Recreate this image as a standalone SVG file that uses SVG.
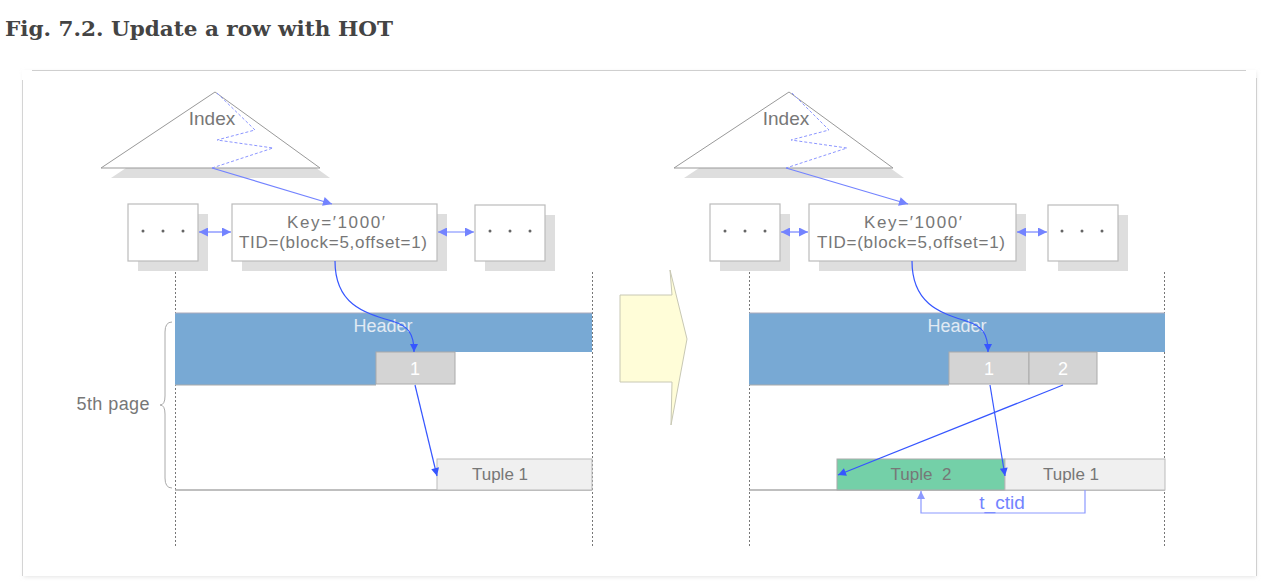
<svg xmlns="http://www.w3.org/2000/svg" width="1272" height="586" viewBox="0 0 1272 586">
<style>
.t{font-family:"Liberation Sans","Noto Sans",sans-serif;fill:#777;text-anchor:middle}
.shadow{fill:#dedede}
.box{fill:#fff;stroke:#bbb;stroke-width:1.2}
.tri{fill:#fff;stroke:#999;stroke-width:1}
.zig{fill:none;stroke:#8c96ff;stroke-width:1;stroke-dasharray:3,2}
.vdot{stroke:#777;stroke-width:1;stroke-dasharray:2,2}
.hdr{fill:#78a9d4}
.slot{fill:#d4d4d4;stroke:#aaa;stroke-width:1}
.tup{fill:#f0f0f0;stroke:#bbb;stroke-width:1}
.light{fill:none;stroke:#7383ff;stroke-width:1.2}
.dark{fill:none;stroke:#3656ff;stroke-width:1.2}
.dot{fill:#666}
</style>
<defs>
<marker id="ahL" viewBox="0 0 10 10" refX="10" refY="5" markerWidth="11" markerHeight="9" markerUnits="userSpaceOnUse" orient="auto-start-reverse"><path d="M0,0 L10,5 L0,10 z" fill="#7383ff"/></marker>
<marker id="ahD" viewBox="0 0 10 10" refX="10" refY="5" markerWidth="12" markerHeight="8" markerUnits="userSpaceOnUse" orient="auto-start-reverse"><path d="M0,0 L10,5 L0,10 z" fill="#3656ff"/></marker>
<marker id="ahT" viewBox="0 0 10 10" refX="10" refY="5" markerWidth="12" markerHeight="8" markerUnits="userSpaceOnUse" orient="auto-start-reverse"><path d="M0,0 L10,5 L0,10 z" fill="#8c99ff"/></marker>
<filter id="fs" x="-5%" y="-5%" width="110%" height="110%"><feGaussianBlur stdDeviation="2"/></filter>
</defs>
<rect width="1272" height="586" fill="#fff"/>
<text x="5" y="36" font-family="DejaVu Serif,Liberation Serif,serif" font-weight="bold" font-size="20" fill="#444" textLength="388" lengthAdjust="spacingAndGlyphs">Fig. 7.2. Update a row with HOT</text>

<g id="frame">
<rect x="24" y="72" width="1232" height="505" fill="#e4e4e4" filter="url(#fs)"/>
<rect x="22" y="70" width="1234" height="506" fill="#fff"/>
<line x1="32" y1="70.5" x2="1246" y2="70.5" stroke="#cfcfcf"/>
<line x1="22.5" y1="80" x2="22.5" y2="576" stroke="#d4d4d4"/>
<line x1="1256.5" y1="78" x2="1256.5" y2="576" stroke="#d0d0d0"/>
</g>

<g id="left-index">
<polygon class="shadow" points="225,102 111,178 330,178"/>
<polygon class="tri" points="215,92 101,168 320,168"/>
<polyline class="zig" points="217,93 255,130 217,140 273,148 212,168"/>
<text class="t" x="212" y="125" font-size="19">Index</text>
</g>
<g id="left-dots1">
<rect class="shadow" x="138" y="214" width="70" height="57"/>
<rect class="box" x="128" y="204" width="70" height="57"/>
<circle class="dot" cx="143" cy="231" r="1.5"/><circle class="dot" cx="163" cy="231" r="1.5"/><circle class="dot" cx="183" cy="231" r="1.5"/>
</g>
<g id="left-key">
<rect class="shadow" x="242" y="214" width="205" height="57"/>
<rect class="box" x="232" y="204" width="205" height="57"/>
<text class="t" x="336" y="228" font-size="17" textLength="98">Key=′1000′</text>
<text class="t" x="333" y="248" font-size="17" textLength="188">TID=(block=5,offset=1)</text>
</g>
<g id="left-dots2">
<rect class="shadow" x="485" y="215" width="70" height="56"/>
<rect class="box" x="475" y="205" width="70" height="56"/>
<circle class="dot" cx="490" cy="231" r="1.5"/><circle class="dot" cx="510" cy="231" r="1.5"/><circle class="dot" cx="530" cy="231" r="1.5"/>
</g>
<g id="left-page">
<line class="vdot" x1="175.5" y1="272" x2="175.5" y2="548"/>
<line class="vdot" x1="592.5" y1="272" x2="592.5" y2="548"/>
<rect class="hdr" x="175" y="313" width="417" height="39"/>
<rect class="hdr" x="175" y="351" width="201" height="34"/>
<line x1="175" y1="313" x2="592" y2="313" stroke="#aab" stroke-width="1"/>
<line x1="175" y1="385" x2="376" y2="385" stroke="#aaa" stroke-width="1"/>
<text x="383" y="332" font-family="Liberation Sans,sans-serif" font-size="18" fill="#e2eaf3" text-anchor="middle">Header</text>
<rect class="slot" x="376" y="352" width="79" height="32"/>
<text x="415" y="375" font-family="Liberation Sans,sans-serif" font-size="18" fill="#fff" text-anchor="middle">1</text>
<line x1="175" y1="490" x2="592" y2="490" stroke="#aaa" stroke-width="1.5"/>
<rect class="tup" x="437" y="459" width="155" height="31"/>
<text class="t" x="500" y="480" font-size="17" fill="#666">Tuple 1</text>
<text class="t" x="113" y="410" font-size="18" textLength="73">5th page</text>
<path d="M172,322 Q165,322 165,332 V396 Q165,405 160,405 Q165,405 165,414 V478 Q165,488 172,488" fill="none" stroke="#aaa" stroke-width="1"/>
</g>

<g id="transition">
<polygon points="620,295 672,295 670,270 687,339 671,425 672,382 620,382" fill="#fffdd8" stroke="#c8c8b4" stroke-width="1"/>
</g>

<g id="right-index">
<polygon class="shadow" points="799,102 684,178 904,178"/>
<polygon class="tri" points="789,92 674,168 893,168"/>
<polyline class="zig" points="792,93 829,130 791,140 847,148 786,168"/>
<text class="t" x="786" y="125" font-size="19">Index</text>
</g>
<g id="right-dots1">
<rect class="shadow" x="720" y="214" width="70" height="57"/>
<rect class="box" x="710" y="204" width="70" height="57"/>
<circle class="dot" cx="725" cy="231" r="1.5"/><circle class="dot" cx="745" cy="231" r="1.5"/><circle class="dot" cx="765" cy="231" r="1.5"/>
</g>
<g id="right-key">
<rect class="shadow" x="819" y="214" width="207" height="57"/>
<rect class="box" x="809" y="204" width="207" height="57"/>
<text class="t" x="913" y="228" font-size="17" textLength="98">Key=′1000′</text>
<text class="t" x="911" y="248" font-size="17" textLength="188">TID=(block=5,offset=1)</text>
</g>
<g id="right-dots2">
<rect class="shadow" x="1058" y="215" width="70" height="56"/>
<rect class="box" x="1048" y="205" width="70" height="56"/>
<circle class="dot" cx="1062" cy="231" r="1.5"/><circle class="dot" cx="1082" cy="231" r="1.5"/><circle class="dot" cx="1102" cy="231" r="1.5"/>
</g>
<g id="right-page">
<line class="vdot" x1="749.5" y1="272" x2="749.5" y2="548"/>
<line class="vdot" x1="1164.5" y1="272" x2="1164.5" y2="548"/>
<rect class="hdr" x="749" y="313" width="416" height="39"/>
<rect class="hdr" x="749" y="351" width="200" height="34"/>
<line x1="749" y1="313" x2="1165" y2="313" stroke="#aab" stroke-width="1"/>
<line x1="749" y1="385" x2="949" y2="385" stroke="#aaa" stroke-width="1"/>
<text x="957" y="332" font-family="Liberation Sans,sans-serif" font-size="18" fill="#e2eaf3" text-anchor="middle">Header</text>
<rect class="slot" x="949" y="352" width="80" height="32"/>
<text x="989" y="375" font-family="Liberation Sans,sans-serif" font-size="18" fill="#fff" text-anchor="middle">1</text>
<rect class="slot" x="1029" y="352" width="68" height="32"/>
<text x="1063" y="375" font-family="Liberation Sans,sans-serif" font-size="18" fill="#fff" text-anchor="middle">2</text>
<line x1="749" y1="490" x2="1165" y2="490" stroke="#aaa" stroke-width="1.5"/>
<rect x="837" y="459" width="168" height="31" fill="#74d0a8" stroke="#aaa" stroke-width="1"/>
<text class="t" x="921" y="480" font-size="17" fill="#666" xml:space="preserve">Tuple  2</text>
<rect class="tup" x="1005" y="459" width="160" height="31"/>
<text class="t" x="1071" y="480" font-size="17" fill="#666">Tuple 1</text>
<text x="1002" y="509" font-family="Liberation Sans,sans-serif" font-size="19" fill="#7383ff" text-anchor="middle">t_ctid</text>
</g>

<g id="connectors">
<line class="light" x1="212" y1="168" x2="332" y2="204" marker-end="url(#ahL)"/>
<line class="light" x1="199" y1="232" x2="231" y2="232" marker-start="url(#ahL)" marker-end="url(#ahL)"/>
<line class="light" x1="438" y1="232" x2="474" y2="232" marker-start="url(#ahL)" marker-end="url(#ahL)"/>
<path class="dark" d="M335,261 C335,305 365,313 392,321 C408,326 414,333 414,352" marker-end="url(#ahD)"/>
<line class="dark" x1="415" y1="385" x2="437" y2="476" marker-end="url(#ahD)"/>

<line class="light" x1="786" y1="168" x2="908" y2="204" marker-end="url(#ahL)"/>
<line class="light" x1="781" y1="232" x2="808" y2="232" marker-start="url(#ahL)" marker-end="url(#ahL)"/>
<line class="light" x1="1017" y1="232" x2="1047" y2="232" marker-start="url(#ahL)" marker-end="url(#ahL)"/>
<path class="dark" d="M912,261 C912,305 942,313 966,321 C982,326 988,333 988,352" marker-end="url(#ahD)"/>
<line class="dark" x1="990" y1="385" x2="1005" y2="476" marker-end="url(#ahD)"/>
<line class="dark" x1="1063" y1="385" x2="838" y2="475" marker-end="url(#ahD)"/>
<path d="M1085,490 V513 H921 V491" fill="none" stroke="#8c99ff" stroke-width="1.2" marker-end="url(#ahT)"/>
</g>
</svg>
